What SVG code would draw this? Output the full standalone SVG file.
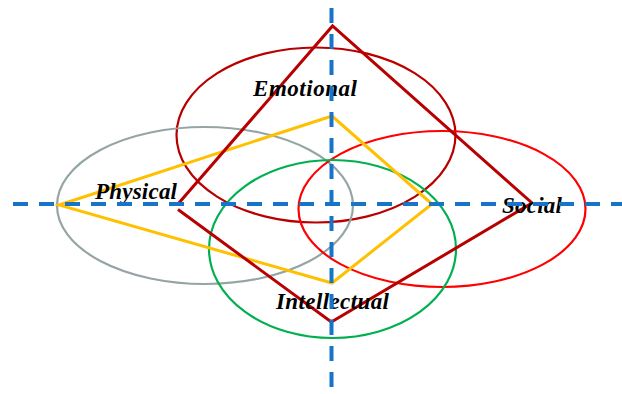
<svg xmlns="http://www.w3.org/2000/svg" width="622" height="394" viewBox="0 0 622 394">
<style>
.ax{fill:none;stroke:#1874C8;stroke-width:4;stroke-dasharray:15 11}
.el{fill:none;stroke-width:2.2}
.lbl{font-family:"Liberation Serif","Times New Roman",serif;font-weight:bold;font-style:italic;font-size:23px;fill:#000}
</style>
<rect width="622" height="394" fill="#fff"/>
<g id="emotional"><ellipse class="el" cx="316" cy="135" rx="139.5" ry="87.5" stroke="#B80000"/></g>
<g id="physical"><ellipse class="el" cx="205" cy="205.5" rx="148" ry="78.5" stroke="#95A5A6"/></g>
<g id="social"><ellipse class="el" cx="442" cy="209" rx="143.5" ry="78" stroke="#FF0000"/></g>
<g id="intellectual"><ellipse class="el" cx="332.5" cy="249" rx="123.5" ry="89" stroke="#00B050"/></g>
<g id="shapes">
<polygon points="59,205 332,116 432,204 332,283" fill="none" stroke="#FFC000" stroke-width="3" stroke-linejoin="miter"/>
<polyline points="178,209.5 330,321 333,321 532,203 332.5,26 178,204" fill="none" stroke="#B80000" stroke-width="3"/>
</g>
<g id="labels">
<text class="lbl" x="253" y="96" textLength="104" lengthAdjust="spacing">Emotional</text>
<text class="lbl" x="95" y="199" textLength="82" lengthAdjust="spacing">Physical</text>
<text class="lbl" x="502" y="213" textLength="60" lengthAdjust="spacing">Social</text>
<text class="lbl" x="276" y="309" textLength="113" lengthAdjust="spacing">Intellectual</text>
</g>
<g id="connectors">
<line class="ax" x1="13" y1="204" x2="622" y2="204"/>
<line class="ax" x1="331.5" y1="8" x2="331.5" y2="394"/>
</g>
</svg>
